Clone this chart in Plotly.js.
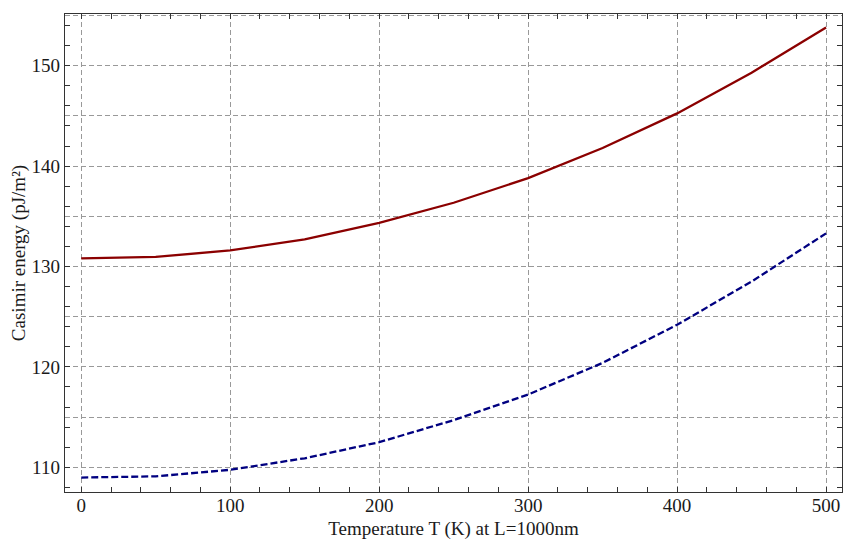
<!DOCTYPE html>
<html>
<head>
<meta charset="utf-8">
<script src="https://cdn.plot.ly/plotly-3.0.1.min.js"></script>
<style>html,body{margin:0;padding:0;background:#fff;}#chart{width:843px;height:540px;}</style>
</head>
<body>
<div id="chart"></div>
<script>
const temperatures = [0, 50, 100, 150, 200, 250, 300, 350, 400, 450, 500];
const energyUpper = [130.8, 130.95, 131.6, 132.7, 134.35, 136.35, 138.8, 141.8, 145.25, 149.3, 153.8];
const energyLower = [108.98, 109.1, 109.75, 110.9, 112.5, 114.7, 117.25, 120.4, 124.2, 128.5, 133.3];
const yTickVals = [110, 115, 120, 125, 130, 135, 140, 145, 150, 155];
const yTickText = ['110', '', '120', '', '130', '', '140', '', '150', ''];
const xTickVals = [0, 100, 200, 300, 400, 500];
const xTickText = ['0', '100', '200', '300', '400', '500'];

const font = {family: 'Liberation Serif, Times New Roman, serif', size: 19, color: '#1a1a1a'};

const traces = [
  {x: temperatures, y: energyUpper, mode: 'lines', line: {color: '#8b0000', width: 2.3}, showlegend: false, hoverinfo: 'skip'},
  {x: temperatures, y: energyLower, mode: 'lines', line: {color: '#000080', width: 2.3, dash: '7px,3px'}, showlegend: false, hoverinfo: 'skip'}
];

const layout = {
  width: 843, height: 540,
  margin: {l: 65, r: 1, t: 14, b: 48},
  paper_bgcolor: '#fff', plot_bgcolor: '#fff',
  font: font,
  showlegend: false,
  xaxis: {
    range: [-10.9, 510.7],
    tickmode: 'array', tickvals: xTickVals, ticktext: xTickText,
    ticks: 'inside', ticklen: 5, tickwidth: 1, tickcolor: '#333',
    ticklabelstandoff: -4,
    minor: {dtick: 20, tick0: 0, ticks: 'inside', ticklen: 5, tickwidth: 1, tickcolor: '#333', showgrid: false},
    showgrid: true, gridcolor: '#999', gridwidth: 1, griddash: '5px,3px',
    showline: true, linecolor: '#333', linewidth: 1.3, mirror: 'allticks',
    zeroline: false,
    tickfont: font,
    title: {text: 'Temperature T (K) at L=1000nm', font: font, standoff: 6}
  },
  yaxis: {
    range: [107.54, 155.15],
    tickmode: 'array', tickvals: yTickVals, ticktext: yTickText,
    ticks: '',
    minor: {dtick: 2, tick0: 0, ticks: 'inside', ticklen: 5, tickwidth: 1, tickcolor: '#333', showgrid: false},
    showgrid: true, gridcolor: '#999', gridwidth: 1, griddash: '5px,3px',
    showline: true, linecolor: '#333', linewidth: 1.3, mirror: 'allticks',
    zeroline: false,
    tickfont: font,
    title: {text: 'Casimir energy (pJ/m²)', font: font, standoff: 0}
  }
};

Plotly.newPlot('chart', traces, layout, {staticPlot: true, displayModeBar: false});
</script>
</body>
</html>
